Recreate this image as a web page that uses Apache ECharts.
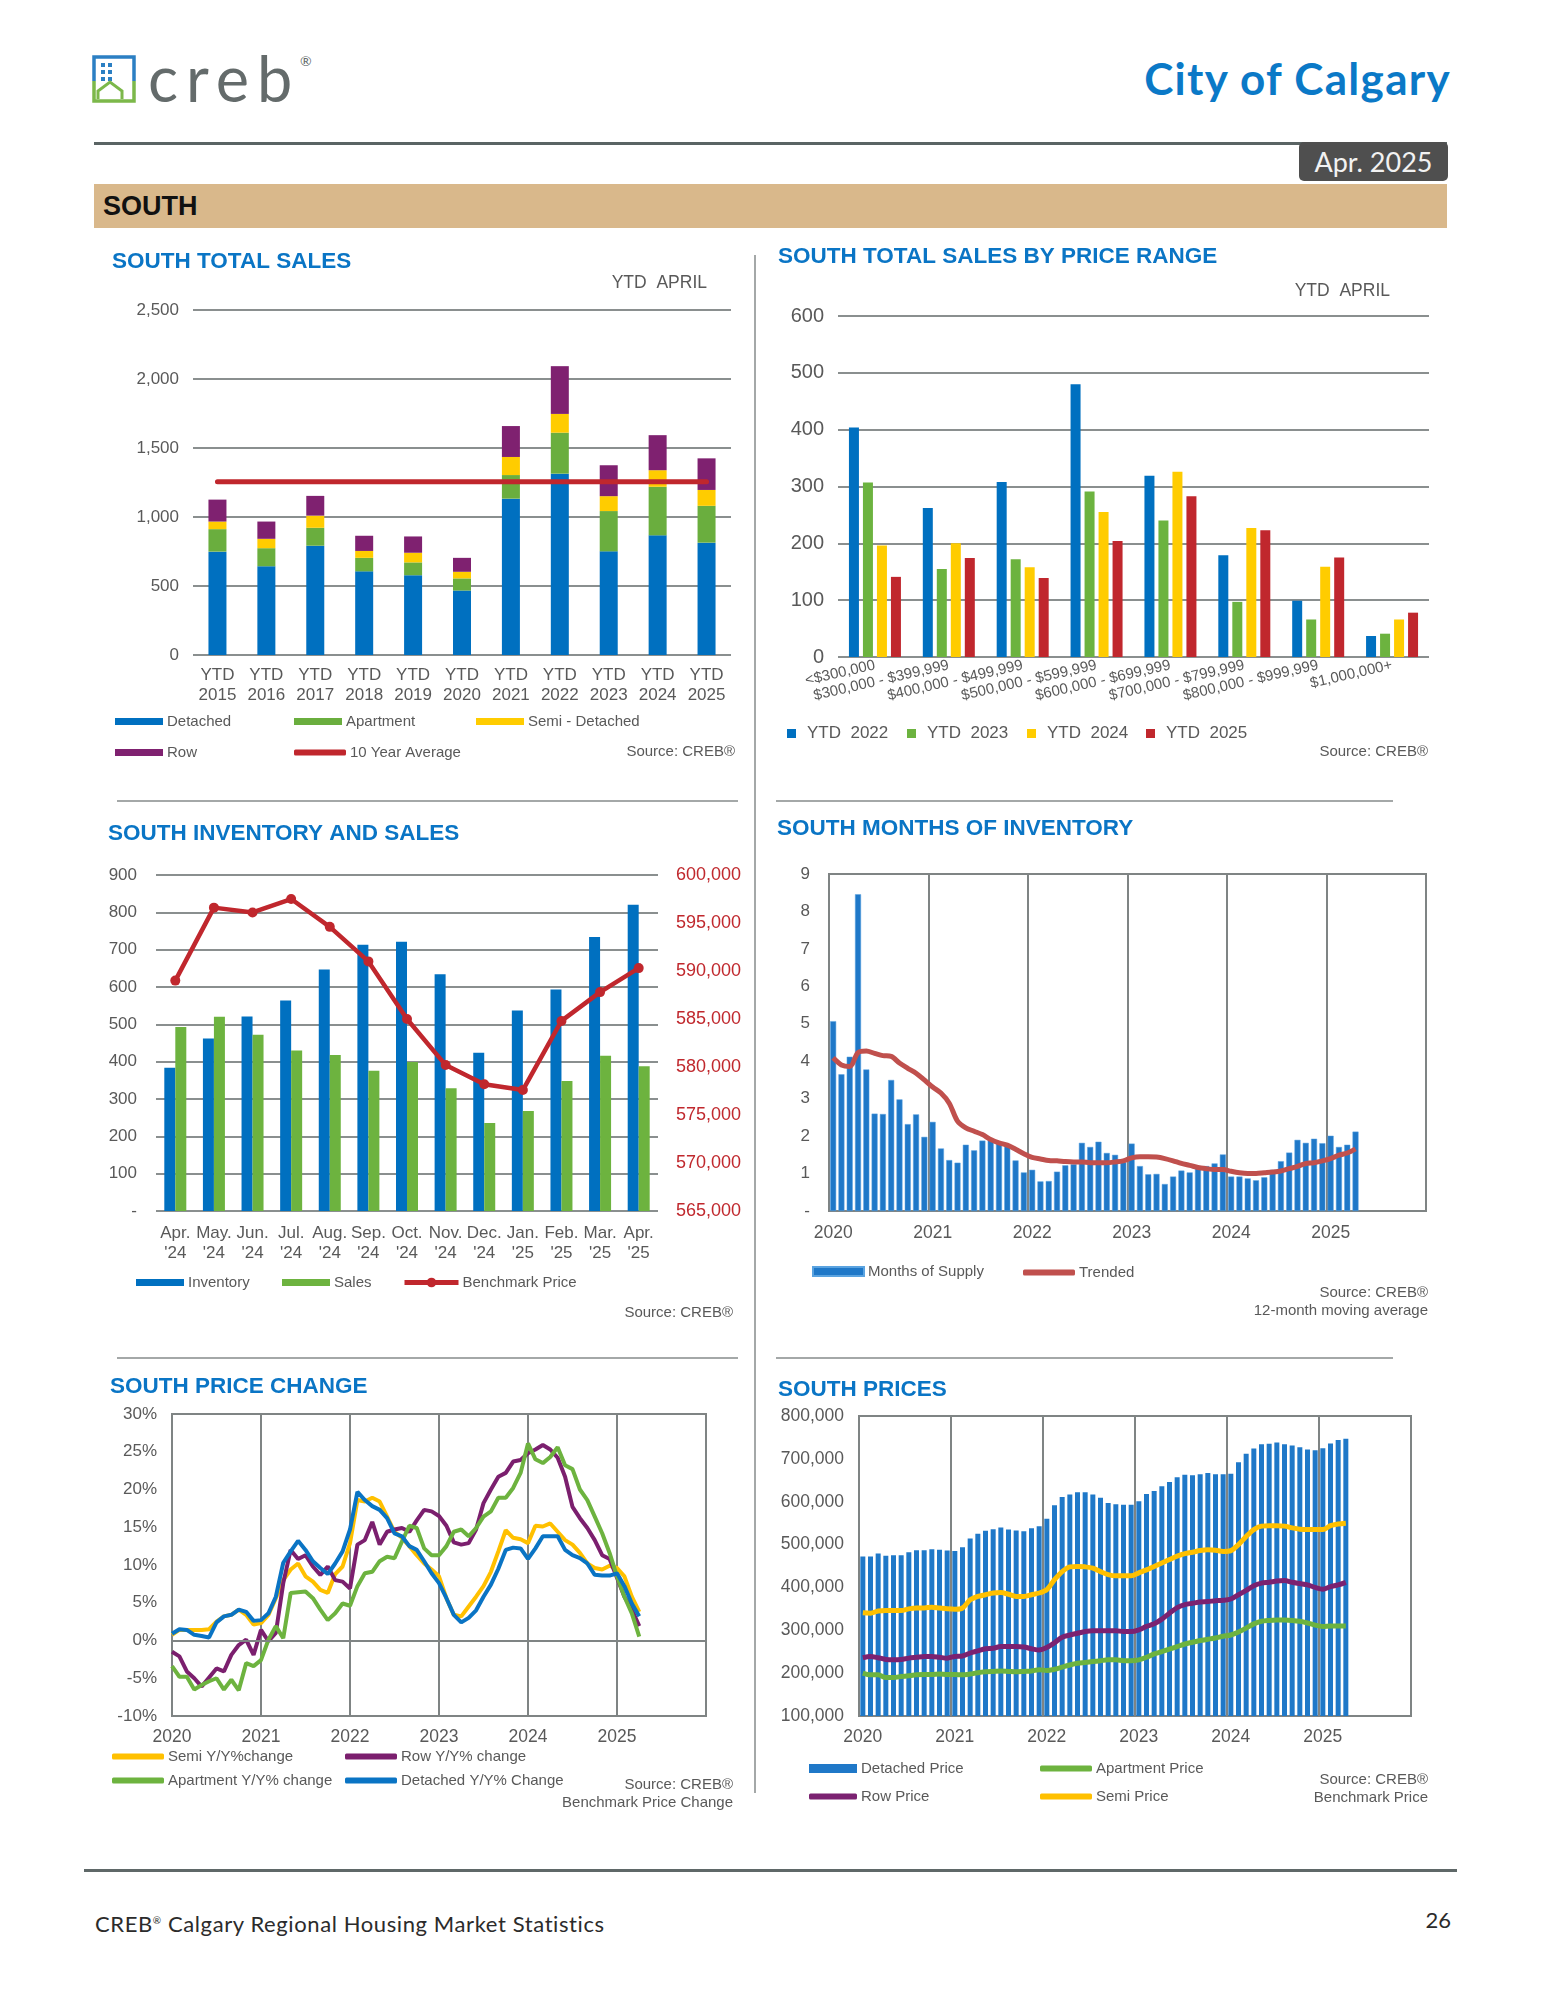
<!DOCTYPE html>
<html><head><meta charset="utf-8">
<script src="https://cdn.jsdelivr.net/npm/echarts@6/dist/echarts.min.js"></script>
<style>
body{margin:0;background:#fff;}
#page{position:relative;width:1545px;height:2000px;overflow:hidden;font-family:Lato,"Noto Sans",sans-serif;}
.abs{position:absolute;}
#chart{position:absolute;left:0;top:0;width:1545px;height:2000px;}
</style></head>
<body><div id="page">
<svg class="abs" style="left:92px;top:55px" width="44" height="48" viewBox="0 0 44 48">
  <path d="M2 26 V2 H42 V26" fill="none" stroke="#2b7fc3" stroke-width="3.5"/>
  <path d="M2 26 V46 H42 V26" fill="none" stroke="#7cb84a" stroke-width="3.5"/>
  <rect x="9" y="8" width="4" height="4" fill="#2b7fc3"/><rect x="16" y="8" width="4" height="4" fill="#2b7fc3"/>
  <rect x="9" y="15" width="4" height="4" fill="#2b7fc3"/><rect x="16" y="15" width="4" height="4" fill="#2b7fc3"/>
  <rect x="9" y="22" width="4" height="4" fill="#2b7fc3"/><rect x="16" y="22" width="4" height="4" fill="#2b7fc3"/>
  <path d="M6 44 V36 L18 27 L30 36 V44" fill="none" stroke="#7cb84a" stroke-width="3"/>
</svg>
<div class="abs" style="left:148px;top:46px;font-size:63px;line-height:63px;color:#646b6b;font-weight:400;letter-spacing:8px;">creb</div>
<div class="abs" style="left:300px;top:52px;font-size:14px;color:#646b6b;">®</div>
<div class="abs" style="right:94px;top:56px;font-size:44px;line-height:44px;font-weight:700;color:#0b79c7;letter-spacing:1.3px;">City of Calgary</div>
<div class="abs" style="left:94px;top:142px;width:1353px;height:3px;background:#5a6464;"></div>
<div class="abs" style="left:1299px;top:142px;width:149px;height:39px;background:#4f4f4f;border-radius:5px;color:#f2f2f2;font-size:27px;line-height:39px;text-align:center;">Apr. 2025</div>
<div class="abs" style="left:94px;top:184px;width:1353px;height:44px;background:#d9b88b;"></div>
<div class="abs" style="left:103px;top:184px;height:44px;line-height:44px;font-family:'Liberation Sans',Arial,sans-serif;font-weight:700;font-size:27px;color:#111;">SOUTH</div>
<div class="abs" style="left:754px;top:255px;width:2px;height:1538px;background:#a4a8a8;"></div>
<div class="abs" style="left:117px;top:800px;width:621px;height:2px;background:#a4a8a8;"></div>
<div class="abs" style="left:776px;top:800px;width:617px;height:2px;background:#a4a8a8;"></div>
<div class="abs" style="left:117px;top:1357px;width:621px;height:2px;background:#a4a8a8;"></div>
<div class="abs" style="left:776px;top:1357px;width:617px;height:2px;background:#a4a8a8;"></div>
<div class="abs" style="left:84px;top:1869px;width:1373px;height:3px;background:#5f6868;"></div>
<div class="abs" style="left:95px;top:1907px;font-size:22px;line-height:26px;color:#2b2b2b;letter-spacing:0.6px;">CREB<sup style="font-size:10px;">®</sup> Calgary Regional Housing Market Statistics</div>
<div class="abs" style="right:94px;top:1907px;font-size:22px;line-height:26px;color:#2b2b2b;">26</div>
<div id="chart"></div>
</div>
<script>
// ---------- DATA ----------
const salesCats = ['YTD\n2015','YTD\n2016','YTD\n2017','YTD\n2018','YTD\n2019','YTD\n2020','YTD\n2021','YTD\n2022','YTD\n2023','YTD\n2024','YTD\n2025'];
const salesDetached = [749,643,792,606,578,467,1133,1314,751,867,814];
const salesApartment = [163,131,130,98,93,88,171,297,292,352,267];
const salesSemi = [55,68,88,50,70,48,131,136,108,120,115];
const salesRow = [159,125,143,110,118,101,224,346,224,254,229];
const tenYearAverage = 1256;

const rangeCats = ['<$300,000','$300,000 - $399,999','$400,000 - $499,999','$500,000 - $599,999','$600,000 - $699,999','$700,000 - $799,999','$800,000 - $999,999','$1,000,000+'];
const ytd2022 = [404,262,308,480,319,179,99,37];
const ytd2023 = [307,155,172,291,240,97,66,41];
const ytd2024 = [196,200,158,255,326,227,159,66];
const ytd2025 = [141,174,139,204,283,223,175,78];

const invCats = ["Apr.\n'24","May.\n'24","Jun.\n'24","Jul.\n'24","Aug.\n'24","Sep.\n'24","Oct.\n'24","Nov.\n'24","Dec.\n'24","Jan.\n'25","Feb.\n'25","Mar.\n'25","Apr.\n'25"];
const inventory = [384,462,521,564,647,713,721,634,424,537,593,734,820];
const monthSales = [493,520,472,430,418,376,399,329,236,268,348,416,388];
const benchmarkPrice = [589000,596600,596100,597500,594600,591000,585000,580200,578200,577600,584800,587800,590300];

const yearLabels = ['2020','2021','2022','2023','2024','2025'];
const monthNums = ['01','02','03','04','05','06','07','08','09','10','11','12'];

const monthsOfSupply = [
 5.07,3.65,4.12,8.46,3.78,2.60,2.59,3.50,2.98,2.32,2.58,1.98,
 2.38,1.67,1.36,1.29,1.77,1.62,1.88,1.91,1.84,1.73,1.35,1.03,
 1.10,0.79,0.80,1.05,1.22,1.25,1.82,1.71,1.85,1.55,1.50,1.30,
 1.80,1.20,0.98,0.99,0.72,0.92,1.08,1.03,1.15,1.20,1.27,1.51,
 0.92,0.92,0.87,0.82,0.90,1.10,1.33,1.56,1.90,1.82,1.93,1.81,
 2.01,1.71,1.77,2.12];
const trended = [
 4.09,3.90,3.86,4.23,4.27,4.21,4.15,4.13,3.95,3.81,3.68,3.50,
 3.31,3.15,2.88,2.40,2.22,2.13,2.04,1.91,1.82,1.76,1.65,1.53,
 1.43,1.39,1.35,1.34,1.32,1.31,1.31,1.29,1.29,1.29,1.31,1.34,
 1.42,1.45,1.45,1.44,1.40,1.34,1.27,1.22,1.16,1.13,1.11,1.11,
 1.06,1.02,1.00,1.00,1.02,1.04,1.07,1.13,1.19,1.27,1.29,1.34,
 1.40,1.49,1.55,1.66];

const semiChange = [
 0.75,1.4,1.4,1.4,1.4,1.5,2.5,3.2,3.4,4.1,3.4,2.1,
 2.3,3.4,5.6,8.0,9.4,10.2,8.5,7.8,6.7,6.3,8.8,9.8,
 12.9,18.6,18.4,18.9,18.4,16.4,14.4,13.6,12.5,11.3,10.2,9.4,
 8.5,5.6,3.4,3.2,4.5,5.8,7.2,9.1,11.8,14.6,13.6,13.4,
 12.9,15.2,15.1,15.5,14.4,13.3,12.7,11.6,10.2,9.6,9.4,9.9,
 9.6,8.5,5.8,3.8];
const rowChange = [
 -1.5,-2.1,-4.1,-5.0,-6.1,-4.9,-3.7,-4.1,-1.9,-0.6,0.1,-1.9,
 1.4,-0.1,1.0,7.6,12.0,10.8,11.3,9.8,8.7,9.8,8.0,7.8,
 6.9,12.7,13.3,15.7,12.7,14.4,14.7,14.9,14.4,15.9,17.3,17.1,
 16.5,15.2,13.0,12.7,12.9,14.7,18.2,20.0,21.7,22.2,23.7,23.9,
 24.8,25.3,25.9,25.3,24.2,21.7,17.7,16.2,14.9,13.3,11.3,10.8,
 8.3,5.8,4.1,1.9];
const apartmentChange = [
 -3.4,-4.8,-4.8,-6.5,-5.9,-5.4,-5.0,-6.5,-5.2,-6.6,-3.0,-3.4,
 -2.6,0.1,1.9,0.3,6.3,6.4,6.5,5.6,4.1,2.7,3.6,4.9,
 4.6,7.2,8.9,9.1,10.5,11.1,10.9,13.1,15.2,14.9,12.2,11.3,
 11.3,12.5,14.4,14.7,13.8,14.9,16.4,17.1,18.9,18.9,20.2,22.2,
 26.1,24.0,23.5,24.3,25.6,23.2,22.7,20.0,18.6,16.4,14.2,11.6,
 8.5,5.8,3.6,0.5];
const detachedChange = [
 0.9,1.5,1.4,0.75,0.6,0.4,2.4,3.2,3.4,4.1,3.8,2.6,
 2.7,3.6,5.8,10.3,11.8,13.2,12.0,10.5,9.6,8.8,10.2,11.8,
 14.7,19.7,18.6,17.8,17.3,16.2,14.2,13.8,12.5,12.0,10.5,8.9,
 7.6,5.6,3.4,2.4,3.0,4.0,5.8,7.4,9.5,12.0,12.3,12.2,
 10.8,12.2,13.8,13.8,13.8,12.0,11.3,10.9,10.2,8.7,8.6,8.6,
 8.9,7.2,4.9,3.2];

const detachedPrice = [
 472000,472000,479000,474000,475000,475000,482000,487000,487000,489000,488000,486000,
 485000,494000,514000,525000,532000,536000,540000,535000,533000,531000,538000,543000,
 560000,592000,611000,617000,622000,622000,617000,609000,597000,594000,593000,593000,
 601000,618000,625000,636000,646000,657000,663000,662000,664000,667000,664000,664000,
 665000,692000,712000,724000,734000,735000,738000,734000,731000,727000,722000,720000,
 725000,736000,744000,747000];
const semiPrice = [
 341000,340000,345000,346000,346000,346000,350000,352000,352000,354000,352000,350000,
 349000,352000,371000,379000,383000,387000,388000,384000,379000,379000,383000,387000,
 395000,418000,437000,448000,449000,448000,445000,437000,430000,427000,427000,427000,
 434000,441000,449000,457000,465000,473000,479000,482000,486000,488000,487000,484000,
 486000,500000,519000,535000,543000,544000,544000,543000,539000,536000,535000,535000,
 535000,544000,548000,550000];
const rowPrice = [
 236000,239000,236000,232000,231000,232000,235000,237000,239000,239000,237000,235000,
 239000,240000,247000,252000,257000,258000,262000,262000,262000,261000,257000,254000,
 260000,271000,284000,289000,293000,297000,299000,299000,299000,299000,297000,297000,
 301000,309000,315000,326000,340000,353000,360000,363000,366000,367000,369000,370000,
 373000,383000,393000,404000,410000,412000,415000,416000,412000,409000,406000,400000,
 396000,402000,406000,412000];
const apartmentPrice = [
 200000,196000,196000,190000,190000,192000,194000,196000,197000,197000,198000,197000,
 197000,196000,198000,201000,203000,204000,205000,204000,203000,204000,205000,208000,
 206000,209000,214000,219000,223000,225000,227000,229000,231000,231000,229000,229000,
 231000,237000,245000,250000,256000,262000,268000,272000,276000,279000,282000,286000,
 289000,296000,305000,315000,321000,323000,324000,324000,323000,321000,317000,312000,
 309000,310000,310000,310000];

// ---------- BUILD ----------
const monthCats = yearLabels.flatMap(y => monthNums.map(m => y + '-' + m));
const chgCats = monthCats.concat(['2026-01']);

const FONT = "'Liberation Sans', Arial, sans-serif";
const LBL = '#595959';
const GRID_LINE = {show:true, lineStyle:{color:'#8a8f8f', width:2}};
const comma = v => String(v).replace(/\B(?=(\d{3})+(?!\d))/g, ',');
const C = {det:'#0070c0', apt:'#6aae3e', semi:'#ffcc00', row:'#7f2170', red:'#c0272d'};

function lg(name, left, top, opts) {
  return Object.assign({
    data:[name], left:left, top:top, padding:0, itemGap:0, selectedMode:false,
    itemWidth:48, itemHeight:7, icon:'rect',
    textStyle:{fontSize:15, color:LBL, fontFamily:FONT, padding:[0,0,0,-1]}
  }, opts || {});
}
const LINE_ICON = {icon:'roundRect', itemWidth:52, itemHeight:6};
function ttl(text, left, top) {
  return {text:text, left:left, top:top, padding:0,
    textStyle:{fontSize:22.5, fontWeight:'bold', color:'#0a75c5', fontFamily:FONT}};
}
function txt(text, x, y, align, vAlign, size) {
  return {type:'text', x:x, y:y, silent:true, style:{text:text, x:0, y:0, fill:LBL,
    font:(size||15)+'px ' + FONT, textAlign:align, align:align, textVerticalAlign:vAlign, verticalAlign:vAlign, lineHeight:18}};
}
const yearLabelInterval = (i) => i % 12 === 0 && i < 72;
const yearLabelFmt = (v) => v.slice(0,4);
const BOX = {show:true, borderColor:'#7f8484', borderWidth:2, backgroundColor:'transparent'};
const SQ = {itemWidth:9, itemHeight:9, textStyle:{fontSize:17,color:LBL,fontFamily:FONT,padding:[0,0,0,6]}};

const option = {
  animation:false,
  textStyle:{fontFamily:FONT},
  title:[
    ttl('SOUTH TOTAL SALES', 112, 250),
    ttl('SOUTH TOTAL SALES BY PRICE RANGE', 778, 245),
    ttl('SOUTH INVENTORY AND SALES', 108, 822),
    ttl('SOUTH MONTHS OF INVENTORY', 777, 817),
    ttl('SOUTH PRICE CHANGE', 110, 1375),
    ttl('SOUTH PRICES', 778, 1378)
  ],
  graphic:[
    txt('YTD  APRIL', 707, 283, 'right', 'middle', 17.5),
    txt('YTD  APRIL', 1390, 291, 'right', 'middle', 17.5),
    txt('Source: CREB®', 735, 752, 'right', 'middle'),
    txt('Source: CREB®', 1428, 752, 'right', 'middle'),
    txt('Source: CREB®', 733, 1313, 'right', 'middle'),
    txt('Source: CREB®\n12-month moving average', 1428, 1284, 'right', 'top'),
    txt('Source: CREB®\nBenchmark Price Change', 733, 1776, 'right', 'top'),
    txt('Source: CREB®\nBenchmark Price', 1428, 1771, 'right', 'top')
  ],
  legend:[
    lg('Detached', 115, 714), lg('Apartment', 294, 714), lg('Semi - Detached', 476, 714),
    lg('Row', 115, 745), lg('10 Year Average', 294, 745, LINE_ICON),
    lg('YTD  2022', 787, 725, SQ), lg('YTD  2023', 907, 725, SQ),
    lg('YTD  2024', 1027, 725, SQ), lg('YTD  2025', 1146, 725, SQ),
    lg('Inventory', 136, 1275), lg('Sales', 282, 1275),
    lg('Benchmark Price', 402, 1275, {icon:null, itemWidth:54, itemHeight:12, lineStyle:{width:5}}),
    lg('Months of Supply', 812, 1264, {itemHeight:9, itemWidth:51}),
    lg('Trended', 1023, 1265, LINE_ICON),
    lg('Semi Y/Y%change', 112, 1749, LINE_ICON),
    lg('Row Y/Y% change', 345, 1749, LINE_ICON),
    lg('Apartment Y/Y% change', 112, 1773, LINE_ICON),
    lg('Detached Y/Y% Change', 345, 1773, LINE_ICON),
    lg('Detached Price', 809, 1761, {itemHeight:9, itemWidth:48}),
    lg('Apartment Price', 1040, 1761, LINE_ICON),
    lg('Row Price', 809, 1789, {icon:'roundRect', itemWidth:48, itemHeight:6}),
    lg('Semi Price', 1040, 1789, LINE_ICON)
  ],
  grid:[
    {left:193, top:310, width:538, height:345},
    {left:838, top:316, width:591, height:341},
    {left:156, top:875, width:502, height:336},
    Object.assign({left:829, top:874, width:597, height:337}, BOX),
    Object.assign({left:172, top:1414, width:534, height:302}, BOX),
    Object.assign({left:859, top:1416, width:552, height:300}, BOX)
  ],
  xAxis:[
    {type:'category', gridIndex:0, data:salesCats, axisLine:{show:false}, axisTick:{show:false},
      axisLabel:{interval:0, fontSize:17, lineHeight:20, color:LBL, margin:10}},
    {type:'category', gridIndex:1, data:rangeCats, axisLine:{show:false}, axisTick:{show:false},
      axisLabel:{interval:0, fontSize:15, color:LBL, rotate:13, margin:8}},
    {type:'category', gridIndex:2, data:invCats, axisLine:{show:false}, axisTick:{show:false},
      axisLabel:{interval:0, fontSize:17, lineHeight:20, color:LBL, margin:12}},
    {type:'category', gridIndex:3, data:monthCats, boundaryGap:true, axisLine:{show:false}, axisTick:{show:false},
      axisLabel:{interval:yearLabelInterval, formatter:yearLabelFmt, fontSize:17.5, color:LBL, margin:13},
      splitLine:{show:true, interval:(i)=>i%12===0, lineStyle:{color:'#7f8484', width:2}}},
    {type:'category', gridIndex:4, data:chgCats, boundaryGap:false, axisLine:{show:false}, axisTick:{show:false},
      axisLabel:{interval:yearLabelInterval, formatter:yearLabelFmt, fontSize:17.5, color:LBL, margin:12},
      splitLine:{show:true, interval:(i)=>i%12===0, lineStyle:{color:'#7f8484', width:2}}},
    {type:'category', gridIndex:5, data:monthCats, boundaryGap:true, axisLine:{show:false}, axisTick:{show:false},
      axisLabel:{interval:yearLabelInterval, formatter:yearLabelFmt, fontSize:17.5, color:LBL, margin:12},
      splitLine:{show:true, interval:(i)=>i%12===0, lineStyle:{color:'#7f8484', width:2}}}
  ],
  yAxis:[
    {type:'value', gridIndex:0, min:0, max:2500, interval:500, splitLine:GRID_LINE,
      axisLabel:{fontSize:17, color:LBL, margin:14, formatter:comma}},
    {type:'value', gridIndex:1, min:0, max:600, interval:100, splitLine:GRID_LINE,
      axisLabel:{fontSize:20, color:LBL, margin:14}},
    {type:'value', gridIndex:2, min:0, max:900, interval:100, splitLine:GRID_LINE,
      axisLabel:{fontSize:17, color:LBL, margin:19, formatter:v => v === 0 ? '-' : v}},
    {type:'value', gridIndex:2, position:'right', min:565000, max:600000, interval:5000, splitLine:{show:false},
      axisLine:{show:false}, axisLabel:{fontSize:18, color:'#c0282d', margin:18, formatter:comma}},
    {type:'value', gridIndex:3, min:0, max:9, interval:1, splitLine:{show:false},
      axisLabel:{fontSize:17, color:LBL, margin:19, formatter:v => v === 0 ? '-' : v}},
    {type:'value', gridIndex:4, min:-10, max:30, interval:5, splitLine:{show:false},
      axisLabel:{fontSize:17, color:LBL, margin:15, formatter:'{value}%'}},
    {type:'value', gridIndex:5, min:100000, max:800000, interval:100000, splitLine:{show:false},
      axisLabel:{fontSize:17.5, color:LBL, margin:15, formatter:comma}}
  ],
  series:[
    // Chart 1
    {name:'Detached', type:'bar', stack:'s', xAxisIndex:0, yAxisIndex:0, barWidth:18, data:salesDetached, itemStyle:{color:C.det}},
    {name:'Apartment', type:'bar', stack:'s', xAxisIndex:0, yAxisIndex:0, data:salesApartment, itemStyle:{color:C.apt}},
    {name:'Semi - Detached', type:'bar', stack:'s', xAxisIndex:0, yAxisIndex:0, data:salesSemi, itemStyle:{color:C.semi}},
    {name:'Row', type:'bar', stack:'s', xAxisIndex:0, yAxisIndex:0, data:salesRow, itemStyle:{color:C.row}},
    {name:'10 Year Average', type:'line', xAxisIndex:0, yAxisIndex:0, data:salesCats.map(() => tenYearAverage),
      symbol:'none', lineStyle:{color:C.red, width:5, cap:'round'}, itemStyle:{color:C.red}, z:5},
    // Chart 2
    {name:'YTD  2022', type:'bar', xAxisIndex:1, yAxisIndex:1, barWidth:10, barGap:'40%', data:ytd2022, itemStyle:{color:C.det}},
    {name:'YTD  2023', type:'bar', xAxisIndex:1, yAxisIndex:1, barWidth:10, barGap:'40%', data:ytd2023, itemStyle:{color:'#6cb33f'}},
    {name:'YTD  2024', type:'bar', xAxisIndex:1, yAxisIndex:1, barWidth:10, barGap:'40%', data:ytd2024, itemStyle:{color:C.semi}},
    {name:'YTD  2025', type:'bar', xAxisIndex:1, yAxisIndex:1, barWidth:10, barGap:'40%', data:ytd2025, itemStyle:{color:C.red}},
    // Chart 3
    {name:'Inventory', type:'bar', xAxisIndex:2, yAxisIndex:2, barWidth:11, barGap:'0%', data:inventory, itemStyle:{color:C.det}},
    {name:'Sales', type:'bar', xAxisIndex:2, yAxisIndex:2, barWidth:11, barGap:'0%', data:monthSales, itemStyle:{color:'#6db33f'}},
    {name:'Benchmark Price', type:'line', xAxisIndex:2, yAxisIndex:3, data:benchmarkPrice, symbol:'circle', symbolSize:10,
      lineStyle:{color:C.red, width:4.5}, itemStyle:{color:C.red}, z:5},
    // Chart 4
    {name:'Months of Supply', type:'bar', xAxisIndex:3, yAxisIndex:4, barWidth:6, data:monthsOfSupply,
      itemStyle:{color:'#1f78c8', borderColor:'#5aa3e0', borderWidth:0.5}},
    {name:'Trended', type:'line', xAxisIndex:3, yAxisIndex:4, data:trended, symbol:'none', smooth:0.3,
      lineStyle:{color:'#c0504d', width:5}, itemStyle:{color:'#c0504d'}, z:5},
    // Chart 5
    {name:'Semi Y/Y%change', type:'line', xAxisIndex:4, yAxisIndex:5, data:semiChange, symbol:'none',
      lineStyle:{color:'#ffc000', width:4}, itemStyle:{color:'#ffc000'},
      markLine:{silent:true, symbol:'none', label:{show:false}, lineStyle:{color:'#7f8484', width:2, type:'solid'}, data:[{yAxis:0}]}},
    {name:'Row Y/Y% change', type:'line', xAxisIndex:4, yAxisIndex:5, data:rowChange, symbol:'none',
      lineStyle:{color:'#7b1f6e', width:4}, itemStyle:{color:'#7b1f6e'}},
    {name:'Apartment Y/Y% change', type:'line', xAxisIndex:4, yAxisIndex:5, data:apartmentChange, symbol:'none',
      lineStyle:{color:'#6db33f', width:4}, itemStyle:{color:'#6db33f'}},
    {name:'Detached Y/Y% Change', type:'line', xAxisIndex:4, yAxisIndex:5, data:detachedChange, symbol:'none',
      lineStyle:{color:'#0a74c4', width:4}, itemStyle:{color:'#0a74c4'}},
    // Chart 6
    {name:'Detached Price', type:'bar', xAxisIndex:5, yAxisIndex:6, barWidth:5, data:detachedPrice, itemStyle:{color:'#1f78c8'}},
    {name:'Apartment Price', type:'line', xAxisIndex:5, yAxisIndex:6, data:apartmentPrice, symbol:'none', smooth:0.3,
      lineStyle:{color:'#6db33f', width:5}, itemStyle:{color:'#6db33f'}},
    {name:'Row Price', type:'line', xAxisIndex:5, yAxisIndex:6, data:rowPrice, symbol:'none', smooth:0.3,
      lineStyle:{color:'#7b2271', width:5}, itemStyle:{color:'#7b2271'}},
    {name:'Semi Price', type:'line', xAxisIndex:5, yAxisIndex:6, data:semiPrice, symbol:'none', smooth:0.3,
      lineStyle:{color:'#ffc000', width:5}, itemStyle:{color:'#ffc000'}}
  ]
};
const chart = echarts.init(document.getElementById('chart'), null, {renderer:'canvas'});
chart.setOption(option);
</script>
</body></html>
